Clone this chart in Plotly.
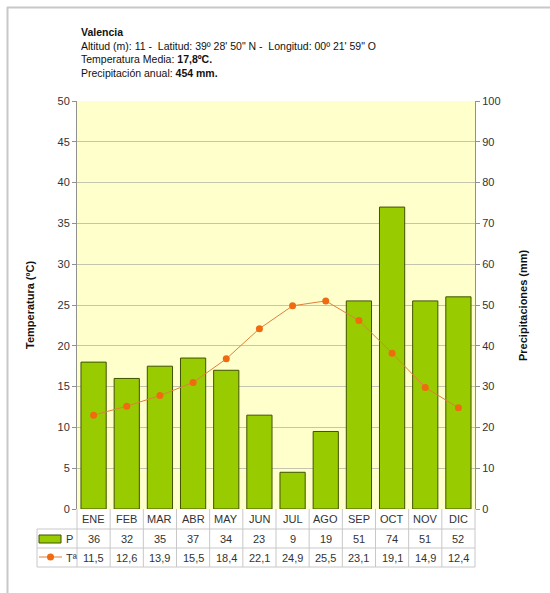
import plotly.graph_objects as go

months = ["ENE", "FEB", "MAR", "ABR", "MAY", "JUN", "JUL", "AGO", "SEP", "OCT", "NOV", "DIC"]
precip = [36, 32, 35, 37, 34, 23, 9, 19, 51, 74, 51, 52]
temp = [11.5, 12.6, 13.9, 15.5, 18.4, 22.1, 24.9, 25.5, 23.1, 19.1, 14.9, 12.4]
temp_labels = ["11,5", "12,6", "13,9", "15,5", "18,4", "22,1", "24,9", "25,5", "23,1", "19,1", "14,9", "12,4"]
temp_ticks = [0, 5, 10, 15, 20, 25, 30, 35, 40, 45, 50]
precip_ticks = [0, 10, 20, 30, 40, 50, 60, 70, 80, 90, 100]

W, H = 550, 593
L, R, T, B = 77, 475, 101, 509  # plot area in pixels
PW, PH = R - L, B - T

def px(X):
    return (X - L) / PW

def py(Y):
    return (B - Y) / PH

FONT = "Liberation Sans, Arial, sans-serif"
TXT = "#333333"
GRID = "#C4C4B0"
TBL = "#C8C8C8"

fig = go.Figure()
fig.add_trace(go.Bar(
    x=months, y=precip, yaxis="y", name="P",
    marker=dict(color="#99CC00", line=dict(color="#3F5200", width=1)),
    width=0.76,
))
fig.add_trace(go.Scatter(
    x=months, y=temp, yaxis="y2", name="Tª", mode="lines+markers",
    line=dict(color="#E0803A", width=1),
    marker=dict(color="#F06A10", size=7),
))

shapes = []
for Y in (529, 548, 567):
    shapes.append(dict(type="line", xref="paper", yref="paper", x0=px(37), x1=1, y0=py(Y), y1=py(Y),
                       line=dict(color=TBL, width=1)))
shapes.append(dict(type="line", xref="paper", yref="paper", x0=px(37), x1=px(37), y0=py(529), y1=py(567),
                   line=dict(color=TBL, width=1)))
for i in range(len(months) + 1):
    shapes.append(dict(type="line", xref="paper", yref="paper", x0=i / len(months), x1=i / len(months),
                       y0=0, y1=py(567), line=dict(color=TBL, width=1)))
shapes.append(dict(type="rect", xref="paper", yref="paper", x0=px(39), x1=px(61), y0=py(543), y1=py(535),
                   fillcolor="#99CC00", line=dict(color="#3F5200", width=1)))
shapes.append(dict(type="line", xref="paper", yref="paper", x0=px(39), x1=px(62), y0=py(557), y1=py(557),
                   line=dict(color="#E0803A", width=1)))
shapes.append(dict(type="circle", xref="paper", yref="paper", x0=px(47), x1=px(54), y0=py(560.5), y1=py(553.5),
                   fillcolor="#F06A10", line=dict(color="#F06A10", width=0)))
shapes.append(dict(type="line", xref="paper", yref="paper", x0=px(7), x1=px(550), y0=py(7.5), y1=py(7.5),
                   line=dict(color="#C8C8C8", width=2)))
shapes.append(dict(type="line", xref="paper", yref="paper", x0=px(7.5), x1=px(7.5), y0=py(7), y1=py(593),
                   line=dict(color="#C8C8C8", width=2)))

ann = []
def cell(x, xref, Y, text, xanchor="center"):
    ann.append(dict(x=x, xref=xref, y=py(Y), yref="paper", text=text, showarrow=False,
                    xanchor=xanchor, yanchor="middle", font=dict(family=FONT, size=11, color=TXT)))

for m in months:
    cell(m, "x", 519, m)
for m, p in zip(months, precip):
    cell(m, "x", 538.5, str(p))
for m, t in zip(months, temp_labels):
    cell(m, "x", 557.5, t)
cell(px(64), "paper", 538.5, "P", "left")
cell(px(64), "paper", 557.5, "Tª", "left")

header = [
    ("<b>Valencia</b>", 32),
    ("Altitud (m): 11 -  Latitud: 39º 28' 50\" N -  Longitud: 00º 21' 59\" O", 46),
    ("Temperatura Media: <b>17,8ºC.</b>", 59.5),
    ("Precipitación anual: <b>454 mm.</b>", 73),
]
for text, Y in header:
    ann.append(dict(x=px(79), xref="paper", y=py(Y), yref="paper", text=text, showarrow=False,
                    xanchor="left", yanchor="middle", font=dict(family=FONT, size=10.5, color="#111111")))

ann.append(dict(x=px(30), xref="paper", y=py(305), yref="paper", text="<b>Temperatura (ºC)</b>",
                textangle=-90, showarrow=False, xanchor="center", yanchor="middle",
                font=dict(family=FONT, size=11, color="#111111")))
ann.append(dict(x=px(523), xref="paper", y=py(305), yref="paper", text="<b>Precipitaciones (mm)</b>",
                textangle=-90, showarrow=False, xanchor="center", yanchor="middle",
                font=dict(family=FONT, size=11, color="#111111")))

fig.update_layout(
    width=W, height=H, autosize=False,
    margin=dict(l=L, r=W - R, t=T, b=H - B, pad=0),
    paper_bgcolor="white",
    plot_bgcolor="#FFFFCC",
    showlegend=False,
    bargap=0.24,
    xaxis=dict(type="category", range=[-0.5, 11.5], showticklabels=False, ticks="",
               showgrid=False, zeroline=False, showline=False, fixedrange=True),
    yaxis=dict(range=[0, 100], tickvals=precip_ticks, side="right", ticks="outside", ticklen=4,
               tickcolor="#909090", gridcolor=GRID, gridwidth=1, zeroline=False, showline=True,
               linecolor="#909090", tickfont=dict(family=FONT, size=11, color=TXT)),
    yaxis2=dict(range=[0, 50], tickvals=temp_ticks, overlaying="y", side="left", ticks="outside",
                ticklen=4, tickcolor="#909090", showgrid=False, zeroline=False, showline=True,
                linecolor="#909090", tickfont=dict(family=FONT, size=11, color=TXT)),
    shapes=shapes,
    annotations=ann,
)

fig.write_html("out.html", config={"displayModeBar": False},
               post_script="document.body.style.margin='0';document.body.style.overflow='hidden';")
